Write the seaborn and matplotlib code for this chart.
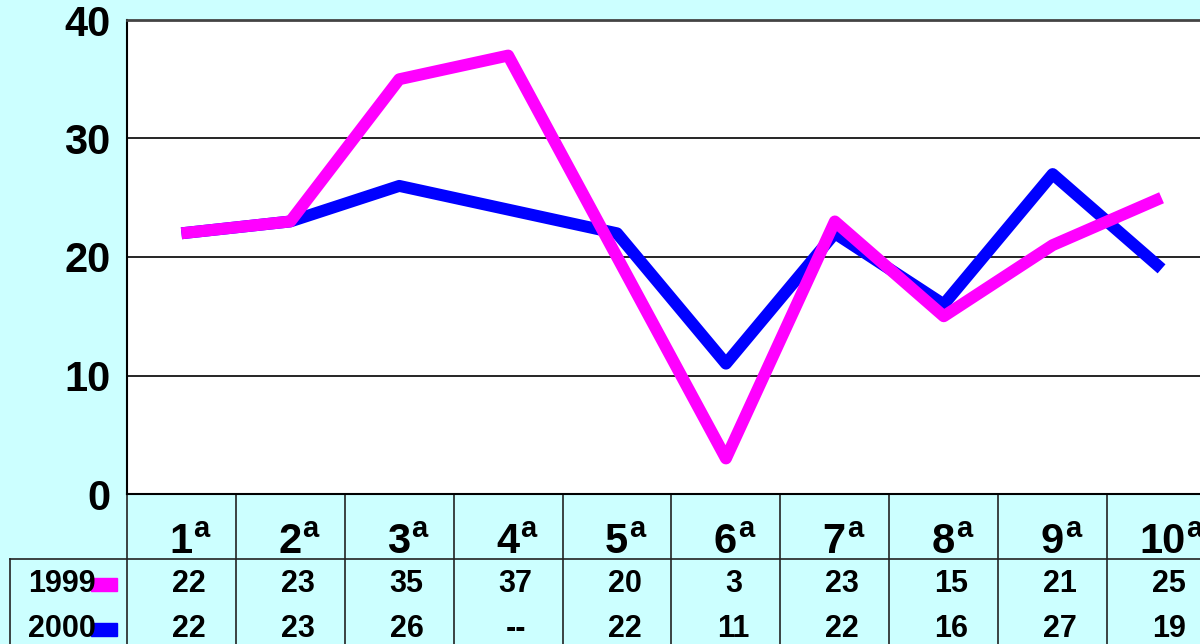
import numpy as np
import pandas as pd
import seaborn as sns
import matplotlib.pyplot as plt
from matplotlib.lines import Line2D
from matplotlib.patches import Rectangle

plt.rcParams['font.family'] = ['Liberation Sans', 'DejaVu Sans']

#---------------------------- data ----------------------------#
categories = ['1ª', '2ª', '3ª', '4ª', '5ª', '6ª', '7ª', '8ª', '9ª', '10ª']
series_names = ['1999', '2000']
values_1999 = [22, 23, 35, 37, 20, 3, 23, 15, 21, 25]
values_2000 = [22, 23, 26, np.nan, 22, 11, 22, 16, 27, 19]
yticks = [0, 10, 20, 30, 40]

colors = {'1999': '#FF00FF', '2000': '#0000FF'}
bg = '#CCFFFF'

df = pd.DataFrame({'pos': range(len(categories)),
                   '1999': values_1999,
                   '2000': values_2000})

#---------------------------- figure ----------------------------#
W, H = 1200, 644
fig = plt.figure(figsize=(12, 6.44), dpi=100, facecolor=bg)
# plot area runs past the right edge, like the original slide
ax = fig.add_axes([127 / W, 150 / H, 1089 / W, 474 / H])
ax.set_facecolor('white')

# blue first so magenta sits on top
for name in ['2000', '1999']:
    d = df[['pos', name]].dropna()
    sns.lineplot(data=d, x='pos', y=name, color=colors[name], lw=8.6,
                 errorbar=None, ax=ax, solid_capstyle='butt',
                 solid_joinstyle='round', zorder=3)

ax.set_xlim(-0.5, len(categories) - 0.5)
ax.set_ylim(0, 40)
ax.set_yticks(yticks)
ax.set_yticklabels([str(t) for t in yticks], fontsize=30, fontweight='bold')
ax.set_xticks([])
ax.tick_params(axis='y', length=0, pad=12)
ax.set_xlabel('')
ax.set_ylabel('')
ax.yaxis.grid(True, color='black', lw=1.2)
ax.set_axisbelow(True)
for side in ['left', 'bottom']:
    ax.spines[side].set_color('black')
    ax.spines[side].set_linewidth(1.5)
ax.spines['top'].set_color('#444444')
ax.spines['top'].set_linewidth(2)
ax.spines['right'].set_visible(False)

#---------------------------- data table ----------------------------#
trans = ax.get_xaxis_transform()
px = 474.0  # axes height in pixels
pt = 0.72   # points per pixel at dpi 100
shift = 7.5 / 108.9  # numbers sit a little right of the category centre

def ay(y_pix):
    return (494 - y_pix) / px

for i, c in enumerate(categories):
    num, sup = c[:-1], 'a'
    anchor = (11 + (len(num) - 1) * 13) * pt
    ax.annotate(num, xy=(i, ay(553)), xycoords=trans, xytext=(anchor, 0),
                textcoords='offset points', ha='right', va='baseline',
                fontsize=30, fontweight='bold', annotation_clip=False)
    ax.annotate(sup, xy=(i, ay(537)), xycoords=trans, xytext=(anchor + 1 * pt, 0),
                textcoords='offset points', ha='left', va='baseline',
                fontsize=21, fontweight='bold', annotation_clip=False)
    for vals, yp in [(values_1999, 584), (values_2000, 629)]:
        v = vals[i]
        ax.text(i + shift, ay(yp), '--' if np.isnan(v) else str(int(v)), transform=trans,
                ha='center', va='center', fontsize=22, fontweight='bold', clip_on=False)

# grid of the table
for k in range(len(categories) + 1):
    ax.plot([k - 0.5, k - 0.5], [0, ay(660)], transform=trans, color='#222222',
            lw=1.2, clip_on=False)
fig.add_artist(Line2D([10 / W, 1.0], [(H - 559) / H] * 2, color='#222222', lw=1.2))
fig.add_artist(Line2D([10 / W, 10 / W], [(H - 559) / H, 0], color='#222222', lw=1.2))

# row labels with legend keys
for name, yp in zip(series_names, [584, 629]):
    fig.text(96 / W, (H - yp) / H, name, ha='right', va='center',
             fontsize=22, fontweight='bold')
    fig.add_artist(Rectangle((91 / W, (H - yp - 7) / H), 26 / W, 13 / H,
                             color=colors[name], transform=fig.transFigure))

plt.savefig('out.png', dpi=100, facecolor=bg)
